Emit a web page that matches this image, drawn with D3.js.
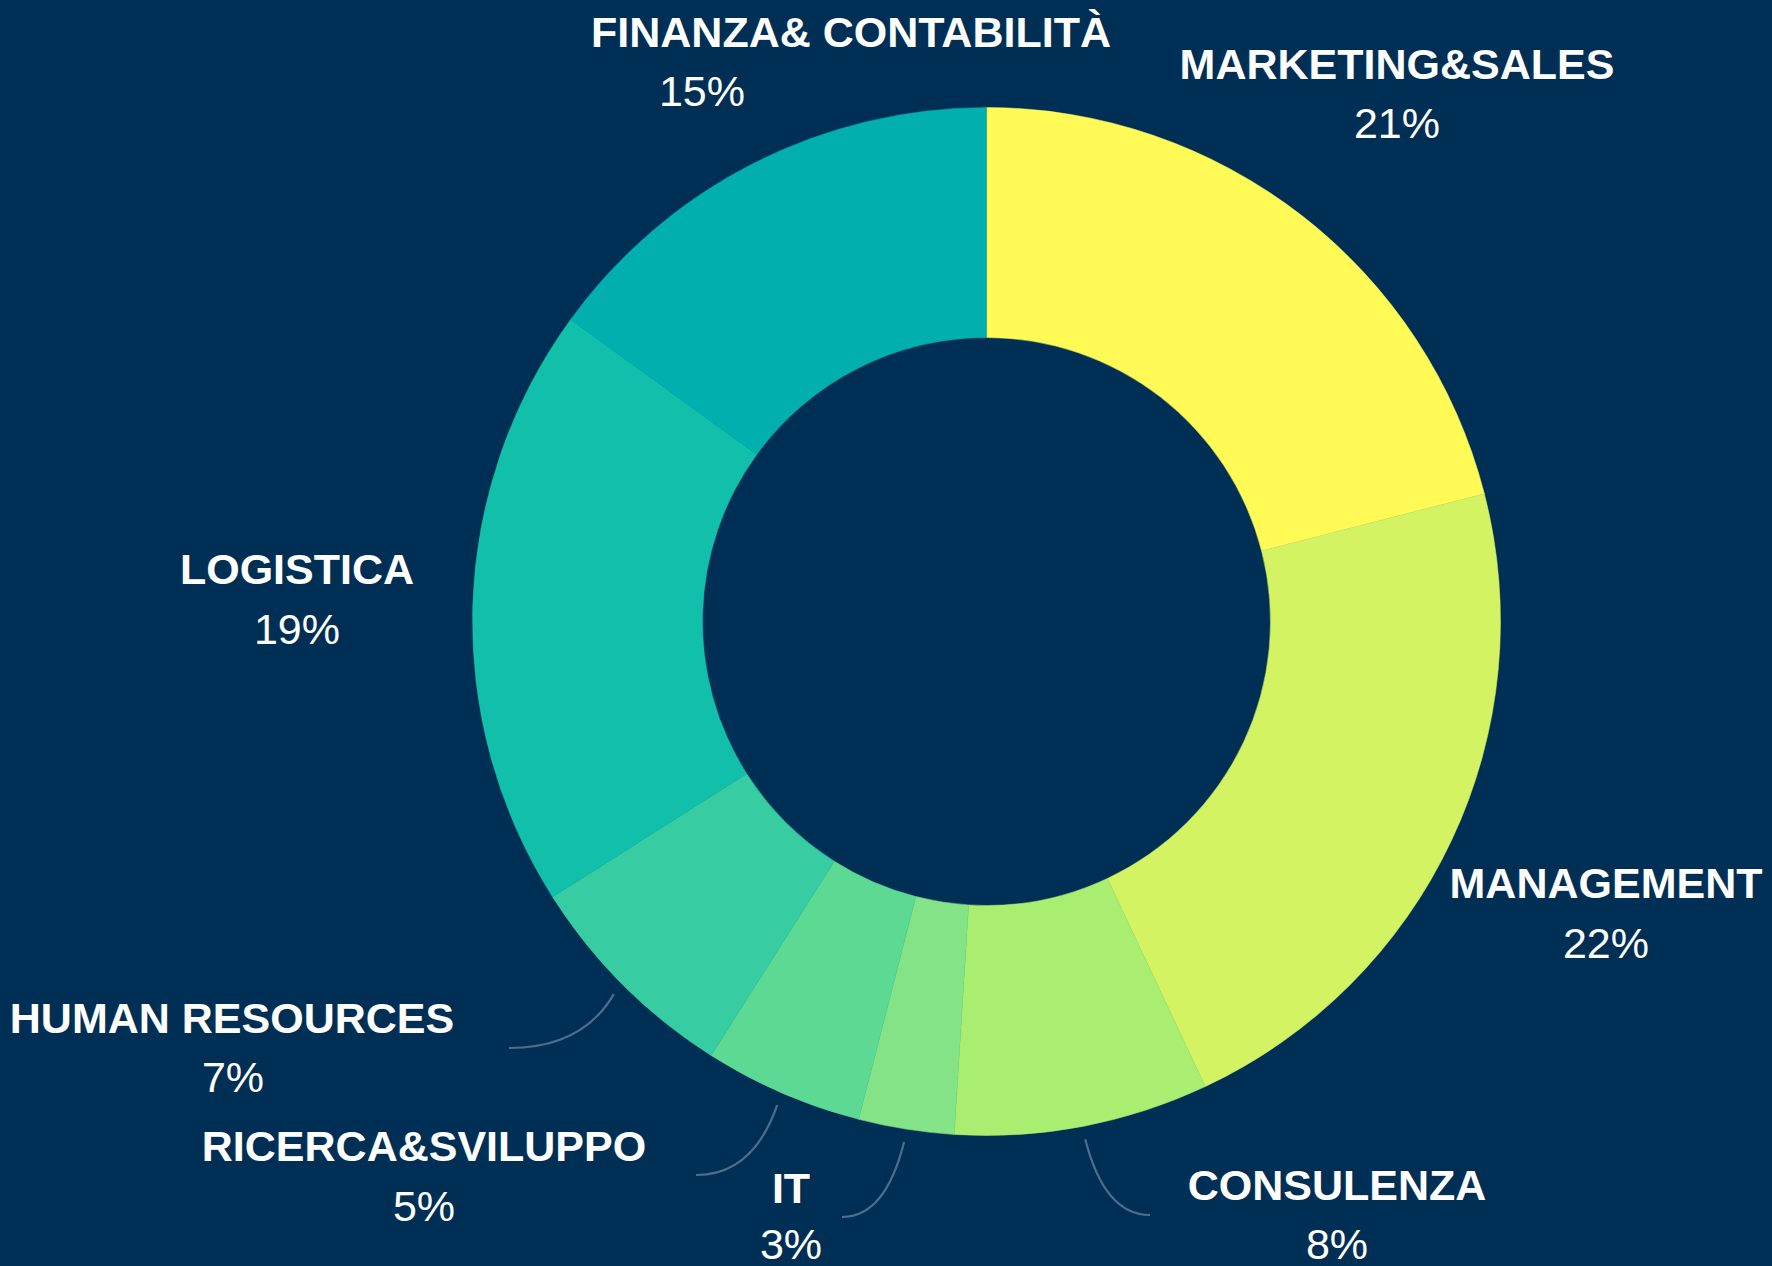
<!DOCTYPE html>
<html>
<head>
<meta charset="utf-8">
<script src="https://cdn.jsdelivr.net/npm/d3@7"></script>
<style>
  html, body { margin: 0; padding: 0; background: #002f55; }
  svg { display: block; }
</style>
</head>
<body>
<div id="main"></div>
<script>
// data, clockwise from 12 o'clock
const categories = ['MARKETING&SALES', 'MANAGEMENT', 'CONSULENZA', 'IT', 'RICERCA&SVILUPPO', 'HUMAN RESOURCES', 'LOGISTICA', 'FINANZA& CONTABILITÀ'];
const values = [21, 22, 8, 3, 5, 7, 19, 15];
const colors = ['#fffa55', '#d4f363', '#a9ee71', '#83e386', '#5cd993', '#38cca2', '#12bfaa', '#01b0ae'];

// label layout (center x, baseline y)
const labelPos = [[1397, 79], [1606, 898], [1337, 1200], [791, 1203], [424, 1161], [232, 1033], [297, 584], [851, 47]];
const pctPos = [[1397, 138], [1606, 958], [1337, 1259], [791, 1259], [424, 1221], [233, 1092], [297, 644], [702, 106]];
// where leader lines end, null = no leader
const leaderEnd = [null, null, [1150, 1215], [842, 1217], [696, 1175], [509, 1048], null, null];

const w = 1772;
const h = 1266;
const cx = 986.5;
const cy = 621.5;
const outerR = 514;
const innerR = 284;

const svg = d3.select('#main').
append('svg').
attr('width', w).
attr('height', h);

svg.append('rect').
attr('width', w).
attr('height', h).
attr('fill', '#002f55');

const pie = d3.pie().sort(null).value(d => d.value);
const arcs = pie(categories.map((c, i) => ({ name: c, value: values[i], i: i })));

const arc = d3.arc().innerRadius(innerR).outerRadius(outerR);
const leaderArc = d3.arc().innerRadius(outerR + 13).outerRadius(outerR + 13);

const g = svg.append('g').attr('transform', `translate(${cx},${cy})`);

g.selectAll('path.slice').
data(arcs).
enter().
append('path').
attr('class', 'slice').
attr('d', arc).
attr('fill', d => colors[d.data.i]).
attr('stroke', d => colors[d.data.i]).
attr('stroke-width', 0.5);

// leader lines
arcs.forEach(d => {
  const end = leaderEnd[d.data.i];
  if (!end) return;
  const s = leaderArc.centroid(d);
  const sx = s[0] + cx, sy = s[1] + cy;
  const ex = end[0], ey = end[1];
  const p = d3.path();
  p.moveTo(sx, sy);
  p.quadraticCurveTo(sx + (ex - sx) * 0.3, ey, ex, ey);
  svg.append('path').
  attr('d', p.toString()).
  attr('fill', 'none').
  attr('stroke', '#4f6c8c').
  attr('stroke-width', 2.2);
});

const labels = svg.append('g').
attr('font-family', '"Liberation Sans", Arial, sans-serif').
attr('fill', '#ffffff').
attr('text-anchor', 'middle').
attr('font-size', 43);

labels.selectAll('text.name').
data(arcs).
enter().
append('text').
attr('class', 'name').
attr('x', d => labelPos[d.data.i][0]).
attr('y', d => labelPos[d.data.i][1]).
attr('font-weight', 'bold').
text(d => d.data.name);

labels.selectAll('text.pct').
data(arcs).
enter().
append('text').
attr('class', 'pct').
attr('x', d => pctPos[d.data.i][0]).
attr('y', d => pctPos[d.data.i][1]).
text(d => d.data.value + '%');
</script>
</body>
</html>
